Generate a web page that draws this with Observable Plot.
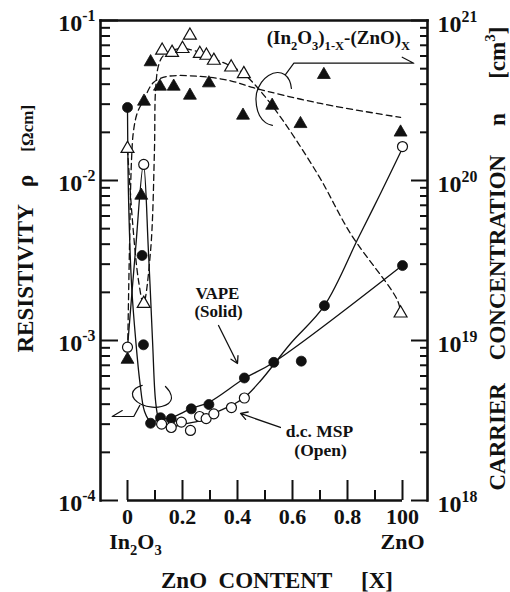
<!DOCTYPE html>
<html><head><meta charset="utf-8">
<script src="https://cdn.jsdelivr.net/npm/d3@7"></script>
<script src="https://cdn.jsdelivr.net/npm/@observablehq/plot@0.6"></script>
<style>body{margin:0;background:#fff} svg{display:block}</style>
</head><body><div id="chart"></div>
<script>
// ---------- data ----------
// Resistivity, VAPE (solid circles)
const vapeRhoX = [0, 0.053, 0.058, 0.084, 0.12, 0.159, 0.232, 0.296, 0.425, 0.532, 0.632, 0.716, 1.0];
const vapeRho  = [2.86e-2, 3.4e-3, 9.4e-4, 3.04e-4, 3.29e-4, 3.24e-4, 3.74e-4, 3.98e-4, 5.83e-4, 7.3e-4, 7.43e-4, 1.65e-3, 2.94e-3];
// Resistivity, d.c. MSP (open circles)
const mspRhoX = [0, 0.059, 0.124, 0.159, 0.196, 0.229, 0.262, 0.286, 0.314, 0.378, 0.425, 1.0];
const mspRho  = [9.08e-4, 1.26e-2, 3.0e-4, 2.86e-4, 3.09e-4, 2.74e-4, 3.35e-4, 3.25e-4, 3.48e-4, 3.81e-4, 4.37e-4, 1.63e-2];
// Carrier concentration, VAPE (solid triangles) [cm^-3]
const vapeNX = [0, 0.05, 0.06, 0.084, 0.118, 0.168, 0.227, 0.296, 0.42, 0.526, 0.629, 0.714, 0.993];
const vapeN  = [7.6e18, 8.06e19, 3.12e20, 5.5e20, 3.87e20, 3.87e20, 3.4e20, 4.06e20, 2.55e20, 2.94e20, 2.26e20, 4.58e20, 2.0e20];
// Carrier concentration, d.c. MSP (open triangles)
const mspNX = [0, 0.059, 0.126, 0.162, 0.2, 0.227, 0.263, 0.287, 0.314, 0.377, 0.423, 0.993];
const mspN  = [1.58e20, 1.7e19, 6.5e20, 6.3e20, 6.66e20, 8.06e20, 6.2e20, 6.04e20, 5.62e20, 5.1e20, 4.64e20, 1.48e19];

// Drawn guide curves
const vapeFitX = [0, 0.004, 0.015, 0.03, 0.045, 0.062, 0.084, 0.12, 0.16, 0.233, 0.295, 0.425, 0.531, 0.999];
const vapeFit  = [2.86e-2, 7.5e-3, 2.2e-3, 1.0e-3, 5.5e-4, 3.6e-4, 3.12e-4, 3.21e-4, 3.3e-4, 3.76e-4, 4.1e-4, 5.79e-4, 7.29e-4, 2.94e-3];
const mspFitX = [0, 0.029, 0.058, 0.076, 0.091, 0.102, 0.113, 0.131, 0.16, 0.196, 0.265, 0.313, 0.378, 0.425, 0.484, 0.593, 0.716, 0.84, 0.92, 0.999];
const mspFit  = [9.04e-4, 3.65e-3, 1.26e-2, 3.65e-3, 1.0e-3, 4.2e-4, 3.25e-4, 2.94e-4, 2.86e-4, 2.99e-4, 3.16e-4, 3.5e-4, 3.93e-4, 4.4e-4, 5.6e-4, 9.58e-4, 1.65e-3, 4.4e-3, 8.3e-3, 1.58e-2];
const vapeNFitX = [0, 0.007, 0.0145, 0.022, 0.036, 0.058, 0.0945, 0.145, 0.265, 0.375, 0.458, 0.702, 0.993];
const vapeNFit  = [7.6e18, 3.65e19, 1.33e20, 2.05e20, 2.66e20, 3.16e20, 4.1e20, 4.47e20, 4.47e20, 4.2e20, 3.8e20, 3.03e20, 2.48e20];
const mspNFitX = [0, 0.018, 0.04, 0.058, 0.084, 0.098, 0.102, 0.113, 0.131, 0.193, 0.265, 0.313, 0.378, 0.422, 0.52, 0.691, 0.811, 0.982, 0.993];
const mspNFit  = [1.58e20, 5.6e19, 2.37e19, 1.7e19, 3.65e19, 1.54e20, 3.65e20, 5.24e20, 6.04e20, 6.68e20, 6.3e20, 5.79e20, 5.16e20, 4.66e20, 3.03e20, 1.1e20, 4.66e19, 1.78e19, 1.48e19];

// Annotation shapes (in data coordinates)
const arcTopX = [0.596, 0.589, 0.571, 0.545, 0.513, 0.487, 0.469, 0.469, 0.48, 0.502, 0.527];
const arcTopY = [3.76e-2, 4.22e-2, 4.6e-2, 4.73e-2, 4.53e-2, 4.1e-2, 3.5e-2, 2.94e-2, 2.55e-2, 2.3e-2, 2.21e-2];
const leadTopX = [0.575, 0.605, 1.041, 0.999];
const leadTopY = [4.6e-2, 5.41e-2, 5.41e-2, 5.9e-2];
const arcBotX = [0.0535, 0.029, 0.018, 0.0255, 0.051, 0.09, 0.124, 0.149, 0.16, 0.153, 0.138];
const arcBotY = [5.24e-4, 5.01e-4, 4.66e-4, 4.28e-4, 3.98e-4, 3.83e-4, 3.87e-4, 4.04e-4, 4.34e-4, 4.8e-4, 5.16e-4];
const leadBotX = [-0.019, -0.0556, 0.0229, 0.0447];
const leadBotY = [3.65e-4, 3.35e-4, 3.35e-4, 3.93e-4];

// Axis ticks and labels
const xMajor = [0, 0.2, 0.4, 0.6, 0.8, 1.0];
const xMinor = [0.1, 0.3, 0.5, 0.7, 0.9];
const xTickLabels = ["0", "0.2", "0.4", "0.6", "0.8", "100"];
const rhoDecades = [1e-4, 1e-3, 1e-2, 1e-1];
const rhoLabels = ["10^{-4}", "10^{-3}", "10^{-2}", "10^{-1}"];
const nDecades = [1e18, 1e19, 1e20, 1e21];
const nLabels = ["10^{18}", "10^{19}", "10^{20}", "10^{21}"];
const endLabelLeft = [{x: 0, label: "In_{2}O_{3}"}];
const endLabelRight = [{x: 1, label: "ZnO"}];

const NS = 1e22; // n / NS shares the resistivity log scale (1e18 ↔ 1e-4)
const minorOf = decs => decs.slice(0, -1).flatMap(d => [2,3,4,5,6,7,8,9].map(k => d * k));

const pts = (xs, ys, s = 1) => xs.map((x, i) => ({x, y: ys[i] / s}));
const FONT = "'Liberation Serif', 'Times New Roman', serif";
const INK = "#111";
const solid = {x: "x", y: "y", stroke: INK, strokeWidth: 1.3, curve: "catmull-rom"};
const dashed = {...solid, strokeDasharray: "6,4"};
const thin = {x: "x", y: "y", stroke: INK, strokeWidth: 1.2};
const bold = {fontWeight: "bold", fill: INK};

const chart = Plot.plot({
  width: 510, height: 592,
  marginLeft: 100, marginRight: 83, marginTop: 20, marginBottom: 92,
  x: {domain: [0, 1], range: [127, 402]},
  y: {type: "log", domain: [1e-4, 1e-1], range: [500, 20]},
  style: {fontFamily: FONT, background: "white", color: INK},
  marks: [
    Plot.frame({anchor: "left", strokeWidth: 2.6}),
    Plot.frame({anchor: "right", strokeWidth: 2.6}),
    Plot.frame({anchor: "top", strokeWidth: 2.6}),
    Plot.ruleY([1e-4], {x1: 0, x2: 1, strokeWidth: 2.6}),
    // left axis ticks (inward)
    Plot.axisY(rhoDecades, {anchor: "left", tickSize: 18, dx: 18, strokeWidth: 2, tickFormat: () => "", label: null}),
    Plot.axisY(minorOf(rhoDecades), {anchor: "left", tickSize: 10, dx: 10, strokeWidth: 2, tickFormat: () => "", label: null}),
    Plot.text(rhoDecades.map((v, i) => ({v, t: rhoLabels[i]})), {y: "v", text: "t", frameAnchor: "left", textAnchor: "end", lineAnchor: "middle", dx: -5, dy: 3, fontSize: 24, ...bold}),
    // right axis ticks (inward)
    Plot.axisY(nDecades.map(n => n / NS), {anchor: "right", tickSize: 17, dx: -17, strokeWidth: 2, tickFormat: () => "", label: null}),
    Plot.axisY(minorOf(nDecades).map(n => n / NS), {anchor: "right", tickSize: 8, dx: -8, strokeWidth: 2, tickFormat: () => "", label: null}),
    Plot.text(nDecades.map((v, i) => ({v: v / NS, t: nLabels[i]})), {y: "v", text: "t", frameAnchor: "right", textAnchor: "start", lineAnchor: "middle", dx: 10, dy: 4, fontSize: 24, ...bold}),
    // bottom axis ticks (upward)
    Plot.axisX(xMajor, {anchor: "bottom", tickSize: 20, dy: -20, strokeWidth: 2, tickFormat: () => "", label: null}),
    Plot.axisX(xMinor, {anchor: "bottom", tickSize: 10, dy: -10, strokeWidth: 2, tickFormat: () => "", label: null}),
    Plot.axisX(xMajor, {anchor: "bottom", tickSize: 0, tickPadding: 8, tickFormat: (d, i) => xTickLabels[i], fontSize: 22, fontWeight: "bold", label: null}),
    Plot.text(endLabelLeft, {x: "x", text: "label", dx: 8, frameAnchor: "bottom", textAnchor: "middle", lineAnchor: "middle", dy: 41, fontSize: 22, ...bold}),
    Plot.text(endLabelRight, {x: "x", text: "label", dx: 0, frameAnchor: "bottom", textAnchor: "middle", lineAnchor: "middle", dy: 41, fontSize: 22, ...bold}),

    // axis titles
    Plot.text(["RESISTIVITY\u00a0\u00a0\u00a0ρ\u00a0\u00a0\u00a0\u00a0%{[Ωcm]}"], {frameAnchor: "left", textAnchor: "start", lineAnchor: "middle", dx: -75, dy: 92, rotate: -90, fontSize: 23, ...bold}),
    Plot.text(["CARRIER\u00a0\u00a0\u00a0\u00a0CONCENTRATION\u00a0\u00a0\u00a0\u00a0\u00a0n\u00a0\u00a0\u00a0\u00a0\u00a0\u00a0[cm^{3}]"], {frameAnchor: "right", textAnchor: "start", lineAnchor: "middle", dx: 70, dy: 230, rotate: -90, fontSize: 23, ...bold}),
    Plot.text(["ZnO\u00a0\u00a0CONTENT\u00a0\u00a0\u00a0\u00a0\u00a0[X]"], {frameAnchor: "bottom", textAnchor: "middle", lineAnchor: "middle", dx: 13, dy: 80, fontSize: 23, ...bold}),

    // guide curves
    Plot.line(pts(vapeNFitX, vapeNFit, NS), dashed),
    Plot.line(pts(mspNFitX, mspNFit, NS), dashed),
    Plot.line(pts(vapeFitX, vapeFit), solid),
    Plot.line(pts(mspFitX, mspFit), solid),

    // annotation shapes
    Plot.line(pts(arcTopX, arcTopY), {...thin, curve: "catmull-rom"}),
    Plot.line(pts(leadTopX, leadTopY), thin),
    Plot.line(pts(arcBotX, arcBotY), {...thin, curve: "catmull-rom"}),
    Plot.line(pts(leadBotX, leadBotY), thin),
    Plot.arrow([{x1: 0.331, y1: 1.24e-3, x2: 0.4, y2: 7.18e-4}], {x1: "x1", y1: "y1", x2: "x2", y2: "y2", stroke: INK, strokeWidth: 1.3, headLength: 9}),
    Plot.arrow([{x1: 0.556, y1: 2.86e-4, x2: 0.411, y2: 3.5e-4}], {x1: "x1", y1: "y1", x2: "x2", y2: "y2", stroke: INK, strokeWidth: 1.3, headLength: 9}),

    // data markers
    Plot.dot(pts(vapeNX, vapeN, NS), {x: "x", y: "y", symbol: "triangle", r: 4.8, fill: INK, stroke: INK, strokeWidth: 0.8}),
    Plot.dot(pts(mspNX, mspN, NS), {x: "x", y: "y", symbol: "triangle", r: 4.8, fill: "white", stroke: INK, strokeWidth: 1.2}),
    Plot.dot(pts(vapeRhoX, vapeRho), {x: "x", y: "y", r: 5, fill: INK, stroke: INK, strokeWidth: 0.8}),
    Plot.dot(pts(mspRhoX, mspRho), {x: "x", y: "y", r: 5, fill: "white", stroke: INK, strokeWidth: 1.2}),

    // annotation texts
    Plot.text([{x: 0.767, y: 7.78e-2, t: "(In_{2}O_{3})_{1-X}-(ZnO)_{X}"}], {x: "x", y: "y", text: "t", fontSize: 19, ...bold}),
    Plot.text([{x: 0.327, y: 1.97e-3, t: "VAPE"}, {x: 0.331, y: 1.52e-3, t: "(Solid)"}], {x: "x", y: "y", text: "t", fontSize: 17, ...bold}),
    Plot.text([{x: 0.698, y: 2.7e-4, t: "d.c. MSP"}, {x: 0.702, y: 2.05e-4, t: "(Open)"}], {x: "x", y: "y", text: "t", fontSize: 17.5, ...bold})
  ]
});
document.getElementById("chart").appendChild(chart);

// turn ^{..}, _{..} (super/subscript) and %{..} (smaller) into real tspans
function richify(root) {
  const NSVG = "http://www.w3.org/2000/svg";
  root.querySelectorAll("text").forEach(t => {
    const targets = t.querySelector("tspan") ? [...t.querySelectorAll("tspan")] : [t];
    targets.forEach(el => {
      const s = el.textContent;
      if (!/[_^%]\{/.test(s)) return;
      const fs = parseFloat(getComputedStyle(el).fontSize) || 16;
      el.textContent = "";
      const re = /([_^%])\{([^}]*)\}/g;
      let last = 0, m, shift = 0;
      const add = (txt, kind) => {
        const ts = document.createElementNS(NSVG, "tspan");
        ts.textContent = txt;
        const target = kind === "^" ? -0.42 * fs : kind === "_" ? 0.3 * fs : 0;
        const d = target - shift;
        if (d) ts.setAttribute("dy", d.toFixed(2));
        shift = target;
        if (kind === "^" || kind === "_") ts.setAttribute("font-size", (0.66 * fs).toFixed(2));
        if (kind === "%") ts.setAttribute("font-size", (0.74 * fs).toFixed(2));
        el.appendChild(ts);
      };
      while ((m = re.exec(s))) {
        if (m.index > last) add(s.slice(last, m.index), null);
        add(m[2], m[1]);
        last = re.lastIndex;
      }
      if (last < s.length) add(s.slice(last), null);
    });
  });
}
richify(chart);
</script></body></html>
